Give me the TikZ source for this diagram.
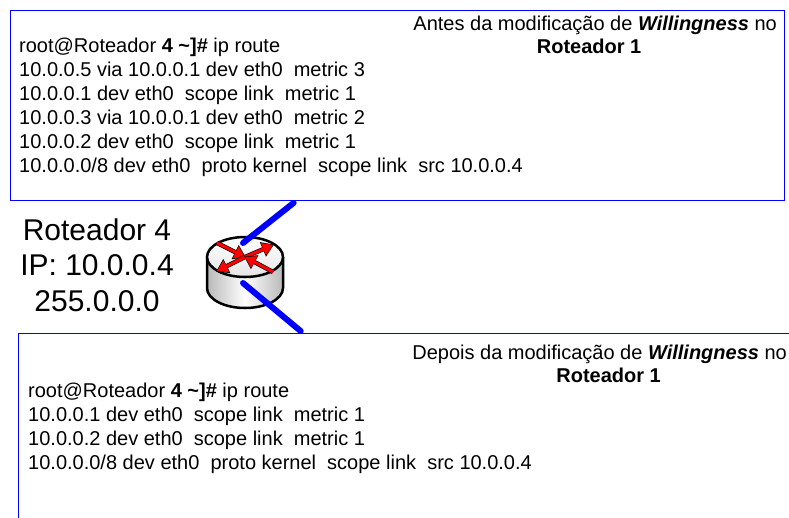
\documentclass[tikz,border=0pt]{standalone}
\usepackage{fontspec}
\setmainfont{Liberation Sans}
\usetikzlibrary{
  positioning,
  calc,
  arrows.meta
}
\tikzset{
  x=1pt, y=-1pt,
  box/.style={draw=blue, line width=1pt, fill=white, inner sep=0pt, anchor=north west},
  listing/.style={align=left, inner sep=0pt, anchor=north west, font=\fontsize{20}{24}\selectfont},
  caption/.style={align=center, inner sep=0pt, anchor=north east, font=\fontsize{20}{23}\selectfont},
  link/.style={draw=blue, line width=6pt, line cap=round},
  flowedge/.style={draw=black, line width=4.4pt, -{Triangle[length=12pt, width=15pt]}},
  flow/.style={draw=red, line width=3pt, -{Triangle[length=10.5pt, width=12.5pt]}}
}

\begin{document}
\begin{tikzpicture}
    \useasboundingbox (0,0) rectangle (789,517);
    \clip (0,0) rectangle (789,517);

    % boxes
    \node[box, minimum width=774pt, minimum height=190pt] (topbox) at (10,10) {};
    \node[box, minimum width=790pt, minimum height=200pt] (botbox) at (18,333) {};

    % router
    \coordinate (router) at (245,257);
    \begin{scope}[shift={(router)}]
      \path[left color=gray!55, right color=gray!55, middle color=white]
        (-38,0) -- (-38,31) arc[start angle=180, end angle=360, x radius=38pt, y radius=20pt]
        -- (38,0) -- cycle;
      \draw[line width=2.5pt]
        (-38,0) -- (-38,31) arc[start angle=180, end angle=360, x radius=38pt, y radius=20pt]
        -- (38,0);
      \draw[line width=2.5pt, top color=white, bottom color=gray!20]
        (0,0) ellipse[x radius=38pt, y radius=20pt];
      \coordinate (ul) at (-28,-14);
      \coordinate (ur) at (28,-12);
      \coordinate (ll) at (-28,14);
      \coordinate (lr) at (28,15);
      \coordinate (mid) at (0,0);
      \foreach \a/\b in {ul/mid, mid/ur, mid/ll, lr/mid} {
        \draw[flowedge, shorten >=-1pt] (\a) -- (\b);
        \draw[flow] (\a) -- (\b);
      }
      \coordinate (upport) at (-2,-14);
      \coordinate (downport) at (-2,26);
    \end{scope}

    % links
    \draw[link, shorten >=3pt] (upport) -- ($(topbox.south west)+(286,0)$);
    \draw[link, shorten >=3pt] (downport) -- ($(botbox.north west)+(285,0)$);

    % texts
    \node[caption] (toptitle) at (777,16)
      {Antes da modificação de \textbf{\textit{Willingness}} no\\ \textbf{Roteador 1}\hspace*{12pt}};
    \node[listing] (toplist) at (19,38)
      {root@Roteador \textbf{4 \textasciitilde]\#} ip route\\
       10.0.0.5 via 10.0.0.1 dev eth0~ metric 3\\
       10.0.0.1 dev eth0~ scope link~ metric 1\\
       10.0.0.3 via 10.0.0.1 dev eth0~ metric 2\\
       10.0.0.2 dev eth0~ scope link~ metric 1\\
       10.0.0.0/8 dev eth0~ proto kernel~ scope link~ src 10.0.0.4};

    \node[caption] (bottitle) at (787,345)
      {Depois da modificação de \textbf{\textit{Willingness}} no\\ \hspace*{18pt}\textbf{Roteador 1}};
    \node[listing] (botlist) at (28,383)
      {root@Roteador \textbf{4 \textasciitilde]\#} ip route\\
       10.0.0.1 dev eth0~ scope link~ metric 1\\
       10.0.0.2 dev eth0~ scope link~ metric 1\\
       10.0.0.0/8 dev eth0~ proto kernel~ scope link~ src 10.0.0.4};

    \node[align=center, inner sep=0pt, font=\fontsize{30}{35.5}\selectfont] (label) at (97,265)
      {Roteador 4\\ IP: 10.0.0.4\\ 255.0.0.0};
\end{tikzpicture}
\end{document}
